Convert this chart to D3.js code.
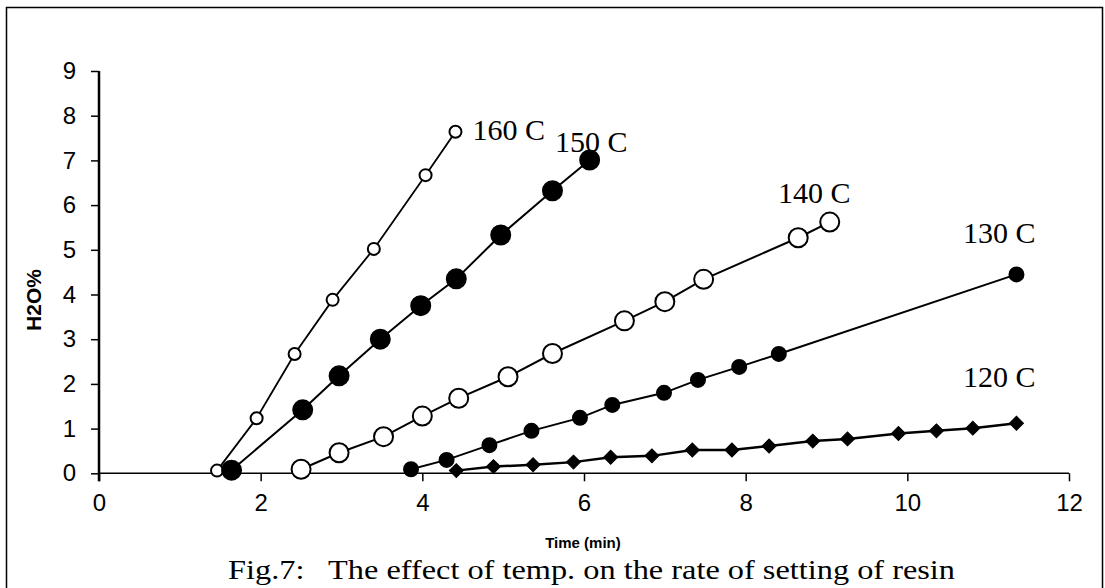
<!DOCTYPE html>
<html>
<head>
<meta charset="utf-8">
<script src="https://cdn.jsdelivr.net/npm/d3@7"></script>
<style>
  html, body { margin: 0; padding: 0; background: #fff; }
  svg { display: block; }
</style>
</head>
<body>
<svg id="chart" width="1105" height="588"></svg>
<script>
// ---- data ----
const xTicks = [0, 2, 4, 6, 8, 10, 12];
const yTicks = [0, 1, 2, 3, 4, 5, 6, 7, 8, 9];

const t160 = [1.46, 1.95, 2.42, 2.89, 3.40, 4.04, 4.41];
const h160 = [0.06, 1.23, 2.67, 3.88, 5.02, 6.67, 7.64];

const t150 = [1.64, 2.52, 2.97, 3.48, 3.98, 4.42, 4.97, 5.61, 6.07];
const h150 = [0.07, 1.42, 2.18, 3.00, 3.75, 4.35, 5.33, 6.32, 7.01];

const t140 = [2.50, 2.97, 3.52, 4.00, 4.45, 5.06, 5.61, 6.50, 7.00, 7.48, 8.65, 9.04];
const h140 = [0.09, 0.46, 0.82, 1.28, 1.68, 2.16, 2.68, 3.41, 3.84, 4.34, 5.27, 5.62];

const t130 = [3.86, 4.30, 4.83, 5.35, 5.95, 6.35, 6.99, 7.41, 7.92, 8.41, 11.35];
const h130 = [0.09, 0.30, 0.63, 0.95, 1.24, 1.53, 1.80, 2.09, 2.38, 2.67, 4.45];

const t120 = [4.42, 4.88, 5.37, 5.87, 6.33, 6.84, 7.34, 7.83, 8.29, 8.83, 9.26, 9.89, 10.36, 10.81, 11.35];
const h120 = [0.06, 0.15, 0.19, 0.25, 0.36, 0.39, 0.52, 0.52, 0.61, 0.72, 0.77, 0.89, 0.95, 1.01, 1.12];

const seriesNames = ["160 C", "150 C", "140 C", "130 C", "120 C"];
// label anchor positions in data units (time, H2O%)
const labelT = [4.62, 5.64, 8.40, 10.69, 10.69];
const labelH = [7.46, 7.19, 6.05, 5.15, 1.93];

const xLabel = "Time (min)";
const yLabel = "H2O%";
const caption = "Fig.7:\u00A0\u00A0 The effect of temp. on the rate of setting of resin";

// ---- drawing ----
const svg = d3.select("#chart");
const x = d3.scaleLinear().domain([0, 12]).range([99, 1069]);
const y = d3.scaleLinear().domain([0, 9]).range([473.3, 71]);

// frame
svg.append("rect").attr("x", 6.5).attr("y", 7.5).attr("width", 1096).attr("height", 600)
  .attr("fill", "none").attr("stroke", "#000").attr("stroke-width", 1.5);

// x axis
const xAxis = svg.append("g").attr("transform", `translate(0,${y(0)})`)
  .call(d3.axisBottom(x).tickValues(xTicks).tickSize(8).tickPadding(13).tickFormat(d3.format("d")));
xAxis.select(".domain").attr("d", `M${x(0)},0H${x(12)}`).attr("stroke-width", 1.5);
xAxis.selectAll(".tick line").attr("stroke-width", 1.5);
xAxis.selectAll(".tick text").attr("font-family", "Liberation Sans, Arial, sans-serif")
  .attr("font-size", 24).attr("fill", "#000");

// y axis
const yAxis = svg.append("g").attr("transform", `translate(${x(0)},0)`)
  .call(d3.axisLeft(y).tickValues(yTicks).tickSize(8).tickPadding(15).tickFormat(d3.format("d")));
yAxis.select(".domain").attr("d", `M0,${y(9)}V${y(0) + 8}`).attr("stroke-width", 2.5);
yAxis.selectAll(".tick line").attr("stroke-width", 1.5);
yAxis.selectAll(".tick text").attr("font-family", "Liberation Sans, Arial, sans-serif")
  .attr("font-size", 24).attr("fill", "#000");

// axis titles
svg.append("text").attr("x", 583).attr("y", 548).attr("text-anchor", "middle")
  .attr("font-family", "Liberation Sans, Arial, sans-serif").attr("font-weight", "bold")
  .attr("font-size", 15).text(xLabel);
svg.append("text").attr("transform", `translate(41,300) rotate(-90)`).attr("text-anchor", "middle")
  .attr("font-family", "Liberation Sans, Arial, sans-serif").attr("font-weight", "bold")
  .attr("font-size", 21).text(yLabel);

// caption
svg.append("text").attr("x", 228).attr("y", 579)
  .attr("font-family", "Liberation Serif, Times New Roman, serif")
  .attr("font-size", 28).attr("textLength", 727).attr("lengthAdjust", "spacingAndGlyphs")
  .text(caption);

const line = d3.line().x(d => x(d[0])).y(d => y(d[1]));
const zip = (a, b) => a.map((v, i) => [v, b[i]]);

const series = [
  { pts: zip(t160, h160), marker: "circle", r: 6,   fill: "#fff", lw: 1.8 },
  { pts: zip(t150, h150), marker: "circle", r: 9.5, fill: "#000", lw: 2 },
  { pts: zip(t140, h140), marker: "circle", r: 9.5, fill: "#fff", lw: 2 },
  { pts: zip(t130, h130), marker: "circle", r: 7,   fill: "#000", lw: 2 },
  { pts: zip(t120, h120), marker: "diamond", r: 7,  fill: "#000", lw: 2.5 }
];

series.forEach((s, i) => {
  const g = svg.append("g");
  g.append("path").attr("d", line(s.pts)).attr("fill", "none")
    .attr("stroke", "#000").attr("stroke-width", s.lw);
  if (s.marker === "circle") {
    g.selectAll("circle").data(s.pts).join("circle")
      .attr("cx", d => x(d[0])).attr("cy", d => y(d[1])).attr("r", s.r)
      .attr("fill", s.fill).attr("stroke", "#000").attr("stroke-width", 2);
  } else {
    const sym = d3.symbol().type(d3.symbolSquare).size(2 * s.r * s.r);
    g.selectAll("path.m").data(s.pts).join("path").attr("class", "m")
      .attr("d", sym)
      .attr("transform", d => `translate(${x(d[0])},${y(d[1])}) rotate(45)`)
      .attr("fill", "#000").attr("stroke", "#000").attr("stroke-width", 1);
  }
  svg.append("text").attr("x", x(labelT[i])).attr("y", y(labelH[i]))
    .attr("font-family", "Liberation Serif, Times New Roman, serif")
    .attr("font-size", 30).attr("fill", "#000").text(seriesNames[i]);
});
</script>
</body>
</html>
